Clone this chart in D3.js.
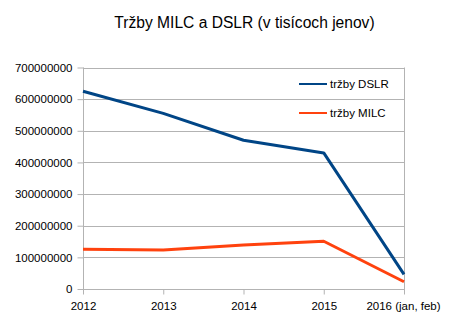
<!DOCTYPE html>
<html><head><meta charset="utf-8">
<script src="https://cdn.jsdelivr.net/npm/d3@7"></script>
<style>body{margin:0;background:#fff}svg{display:block;font-family:"Liberation Sans",Arial,sans-serif}</style>
</head><body>
<svg id="c" width="452" height="335"></svg>
<script>
const categories = ["2012","2013","2014","2015","2016 (jan, feb)"];
const dslr = [625000000, 555000000, 470000000, 430000000, 46000000];
const milc = [126000000, 123000000, 139000000, 151000000, 23000000];
const yTicks = [0,100000000,200000000,300000000,400000000,500000000,600000000,700000000];
const seriesNames = ["tržby DSLR","tržby MILC"];
const title = "Tržby MILC a DSLR (v tisícoch jenov)";

const svg = d3.select("#c");
const L=83, R=404, T=67.5, B=289;
const x = d3.scalePoint().domain(categories).range([L,R]);
const y = d3.scaleLinear().domain([0,700000000]).range([B,T]);
const grid="#b3b3b3";

svg.append("text").attr("x",244.5).attr("y",28).attr("text-anchor","middle")
  .attr("font-size","15.6px").attr("fill","#000").text(title);

// gridlines
svg.append("g").selectAll("line").data(yTicks).join("line")
  .attr("x1",L).attr("x2",R).attr("y1",d=>Math.round(y(d))+0.5).attr("y2",d=>Math.round(y(d))+0.5)
  .attr("stroke",grid).attr("stroke-width",1);
// right border
svg.append("line").attr("x1",R+0.5).attr("x2",R+0.5).attr("y1",T).attr("y2",B+5).attr("stroke",grid);

const yAxis = d3.axisLeft(y).tickValues(yTicks).tickSize(6).tickPadding(5).tickFormat(d3.format("d"));
const gy = svg.append("g").attr("transform",`translate(${L+0.5},0)`).call(yAxis);
gy.select(".domain").attr("stroke",grid).attr("d",`M0,${T}V${B+5}`);
gy.selectAll(".tick line").attr("stroke",grid);
gy.selectAll(".tick text").attr("font-size","11.5px").attr("fill","#000").attr("font-family","Liberation Sans, Arial, sans-serif");

const xAxis = d3.axisBottom(x).tickSize(5).tickPadding(7);
const gx = svg.append("g").attr("transform",`translate(0,${Math.round(B)+0.5})`).call(xAxis);
gx.select(".domain").attr("stroke",grid).attr("d",`M${L},0H${R}`);
gx.selectAll(".tick line").attr("stroke",grid);
gx.selectAll(".tick text").attr("font-size","11.5px").attr("fill","#000").attr("font-family","Liberation Sans, Arial, sans-serif");
gx.selectAll(".tick text").filter(d=>d===categories[categories.length-1]).attr("dx","-1");

const line = d3.line().x((d,i)=>x(categories[i])).y(d=>y(d));
const colors = ["#004586","#ff420e"];
[dslr, milc].forEach((s,i)=>{
  svg.append("path").datum(s).attr("d",line).attr("fill","none")
    .attr("stroke",colors[i]).attr("stroke-width",3).attr("stroke-linejoin","round");
});

// legend
const lg = svg.append("g");
seriesNames.forEach((n,i)=>{
  const yy = 84 + i*29;
  lg.append("line").attr("x1",299).attr("x2",327).attr("y1",yy).attr("y2",yy)
    .attr("stroke",colors[i]).attr("stroke-width",2);
  lg.append("text").attr("x",330).attr("y",yy+4).attr("font-size","11.5px").attr("fill","#000").text(n);
});
</script>
</body></html>
